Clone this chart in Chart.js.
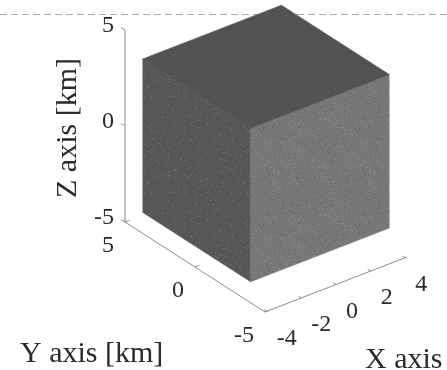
<!DOCTYPE html>
<html>
<head>
<meta charset="utf-8">
<script src="https://cdn.jsdelivr.net/npm/chart.js@4.4.1/dist/chart.umd.min.js"></script>
<style>
  html, body { margin: 0; padding: 0; background: #fff; }
  #wrap { width: 447px; height: 370px; }
</style>
</head>
<body>
<div id="wrap"><canvas id="chart" width="447" height="370"></canvas></div>
<script>
// ── data (km) ───────────────────────────────────────────────
const xTicks  = [-4, -2, 0, 2, 4];
const yTicks  = [-5, 0, 5];
const zTicks  = [-5, 0, 5];
const xLimits = [-4.1, 4.1];
const yLimits = [-5, 5];
const zLimits = [-5, 5];
const cubeX   = [-4, 4];
const cubeY   = [-3.85, 3.85];
const cubeZ   = [-4, 4];

// ── view (pixel projection of the 3D box) ───────────────────
const ORIGIN = [265, 312];        // (xmin, ymin, zmin) of the axes box
const UNIT_X = [17.32, -6.71];
const UNIT_Y = [-14, -9];
const UNIT_Z = [0, -19.2];

const SERIF = "'Liberation Serif', 'DejaVu Serif', serif";
const AXIS_COLOR = "#8c8c8c";
const TEXT_COLOR = "#2a2a2a";

function project(x, y, z) {
  const a = x - xLimits[0], b = y - yLimits[0], c = z - zLimits[0];
  return {
    x: ORIGIN[0] + a * UNIT_X[0] + b * UNIT_Y[0] + c * UNIT_Z[0],
    y: ORIGIN[1] + a * UNIT_X[1] + b * UNIT_Y[1] + c * UNIT_Z[1]
  };
}

function poly(corners) {
  const pts = corners.map(p => project(p[0], p[1], p[2]));
  pts.push(pts[0]);
  return pts;
}

// grainy surface texture for the faces
function grain(i, j, seed) {
  let h = (i * 374761393 + j * 668265263 + seed * 982451653) | 0;
  h = Math.imul(h ^ (h >>> 13), 1274126177);
  return ((h ^ (h >>> 16)) >>> 0) / 4294967295;
}

function makeTexture(base, seed, density, light) {
  const c = document.createElement("canvas");
  c.width = 96; c.height = 96;
  const g = c.getContext("2d");
  g.fillStyle = base;
  g.fillRect(0, 0, 96, 96);
  for (let i = 0; i < 96; i++) {
    for (let j = 0; j < 96; j++) {
      const r = grain(i, j, seed);
      if (r < density) {
        const v = light + Math.round(grain(j, i, seed + 7) * 25);
        g.fillStyle = `rgba(${v},${v},${v},0.6)`;
        g.fillRect(i, j, 1, 1);
      } else if (r > 1 - density * 0.6) {
        g.fillStyle = "rgba(60,60,60,0.3)";
        g.fillRect(i, j, 1, 1);
      }
    }
  }
  return g.createPattern(c, "repeat");
}

const [x0, x1] = cubeX, [y0, y1] = cubeY, [z0, z1] = cubeZ;
const topFace   = poly([[x0, y0, z1], [x1, y0, z1], [x1, y1, z1], [x0, y1, z1]]);
const rightFace = poly([[x0, y0, z0], [x1, y0, z0], [x1, y0, z1], [x0, y0, z1]]);
const leftFace  = poly([[x0, y0, z0], [x0, y1, z0], [x0, y1, z1], [x0, y0, z1]]);

const xAxis = [project(xLimits[0], yLimits[0], zLimits[0]), project(xLimits[1], yLimits[0], zLimits[0])];
const yAxis = [project(xLimits[0], yLimits[1], zLimits[0]), project(xLimits[0], yLimits[0], zLimits[0])];
const zAxis = [project(xLimits[0], yLimits[1], zLimits[0]), project(xLimits[0], yLimits[1], zLimits[1])];

// tick marks as short segments, separated by null gaps
function tickMarks(ticks, at, dir) {
  const out = [];
  ticks.forEach(t => {
    const p = at(t);
    out.push(p, { x: p.x + dir[0], y: p.y + dir[1] }, { x: null, y: null });
  });
  return out;
}
const xTickMarks = tickMarks(xTicks, t => project(t, yLimits[0], zLimits[0]), [-2.8, -1.8]);
const yTickMarks = tickMarks(yTicks, t => project(xLimits[0], t, zLimits[0]), [4.3, -1.7]);
const zTickMarks = tickMarks(zTicks, t => project(xLimits[0], yLimits[1], t), [-4, -2.5]);

function face(data, color) {
  return { data, showLine: true, pointRadius: 0, borderWidth: 0.6, borderColor: color,
           backgroundColor: color, fill: "shape", tension: 0 };
}
function line(data) {
  return { data, showLine: true, pointRadius: 0, borderWidth: 1, borderColor: AXIS_COLOR,
           fill: false, tension: 0, spanGaps: false };
}

// ── decorations + text ─────────────────────────────────────
const decorPlugin = {
  id: "decor",
  beforeDatasetsDraw(chart) {
    const ctx = chart.ctx;
    ctx.save();
    ctx.strokeStyle = "#a8a8a8";
    ctx.lineWidth = 1;
    ctx.setLineDash([7, 4]);
    ctx.beginPath();
    ctx.moveTo(0, 14.5);
    ctx.lineTo(chart.width, 14.5);
    ctx.stroke();
    ctx.restore();
  },
  afterDatasetsDraw(chart) {
    const ctx = chart.ctx;
    ctx.save();
    ctx.fillStyle = TEXT_COLOR;
    ctx.textBaseline = "middle";
    ctx.font = `24px ${SERIF}`;

    ctx.textAlign = "right";
    zTicks.forEach(t => {
      const p = project(xLimits[0], yLimits[1], t);
      ctx.fillText(String(t), p.x - 11, p.y - 4);
    });
    yTicks.forEach(t => {
      const p = project(xLimits[0], t, zLimits[0]);
      ctx.fillText(String(t), p.x - 11, p.y + 24);
    });
    ctx.textAlign = "left";
    xTicks.forEach(t => {
      const p = project(t, yLimits[0], zLimits[0]);
      ctx.fillText(String(t), p.x + 10, p.y + 27);
    });

    ctx.font = `30px ${SERIF}`;
    ctx.textAlign = "left";
    ctx.fillText("Y axis [km]", 20, 354);
    ctx.fillText("X axis [km]", 365, 360);

    ctx.translate(68, 128);
    ctx.rotate(-Math.PI / 2);
    ctx.textAlign = "center";
    ctx.fillText("Z axis [km]", 0, 0);
    ctx.restore();
  }
};

const chart = new Chart(document.getElementById("chart").getContext("2d"), {
  type: "scatter",
  data: {
    datasets: [
      face(topFace,   makeTexture("#525252", 3, 0.008, 90)),
      face(rightFace, makeTexture("#777777", 11, 0.05, 135)),
      face(leftFace,  makeTexture("#575757", 5, 0.035, 115)),
      line(xAxis), line(yAxis), line(zAxis),
      line(xTickMarks), line(yTickMarks), line(zTickMarks)
    ]
  },
  options: {
    responsive: false,
    animation: false,
    devicePixelRatio: 1,
    layout: { padding: 0 },
    plugins: { legend: { display: false }, tooltip: { enabled: false } },
    scales: {
      x: { type: "linear", min: 0, max: 447, display: false },
      y: { type: "linear", min: 0, max: 370, reverse: true, display: false }
    }
  },
  plugins: [decorPlugin]
});
</script>
</body>
</html>
